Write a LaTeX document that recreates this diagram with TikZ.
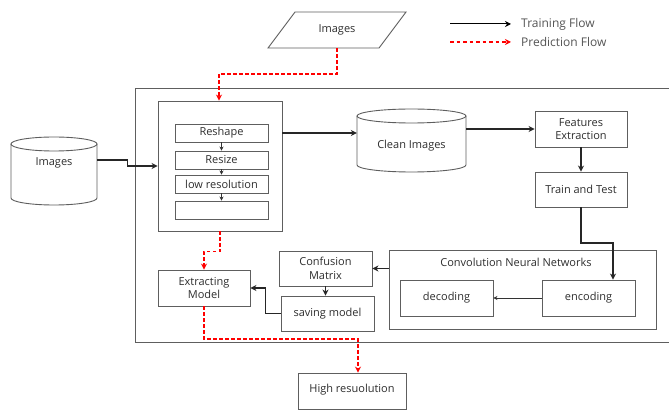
\documentclass[tikz,border=0pt]{standalone}
\usepackage{fontspec}
\setmainfont{Open Sans}
\usetikzlibrary{arrows.meta,calc}
\definecolor{boxc}{HTML}{5E5E5E}
\definecolor{txt}{HTML}{2E2E2E}
\definecolor{legt}{HTML}{555555}
\begin{document}
\begin{tikzpicture}[x=1pt,y=-1pt,
  box/.style={draw=boxc, line width=0.9pt, rectangle, inner sep=1pt, align=center,
    text=txt, font=\fontsize{11}{13.5}\selectfont},
  txtnode/.style={inner sep=0pt, align=center, text=txt, font=\fontsize{11}{13.5}\selectfont},
  cyl/.style={draw=boxc, line width=0.9pt},
  train/.style={draw=black!85, line width=1.4pt, -{Stealth[length=6pt,width=6pt]}},
  thinarrow/.style={draw=black!80, line width=0.6pt, -{Stealth[length=4pt,width=4pt]}},
  pred/.style={draw=red, line width=1.3pt, dash pattern=on 3.5pt off 2.5pt, -{Stealth[length=6pt,width=6pt]}},
  legtext/.style={anchor=west, inner sep=0pt, text=legt, font=\fontsize{12}{14}\selectfont}
]
\clip (0,0) rectangle (669,419);
\fill[white] (0,0) rectangle (669,419);

% outer frame
\node[draw=boxc, line width=1pt, minimum width=545pt, minimum height=254pt, inner sep=0pt] (outer) at (407.5,216) {};

% parallelogram input
\draw[cyl] (268,48) -- (295,12) -- (406,12) -- (379,48) -- cycle;
\node[txtnode, minimum width=111pt, minimum height=36pt] (pin) at (337,30) {Images};

% legend
\coordinate (l1) at (450,24);
\coordinate (l2) at (511,24);
\coordinate (l3) at (450,42);
\coordinate (l4) at (511,42);
\draw[draw=black, line width=1pt, -{Stealth[length=6pt,width=6pt]}] (l1) -- (l2);
\draw[draw=red, line width=1.2pt, dash pattern=on 3.5pt off 3pt, -{Stealth[length=6pt,width=6pt]}] (l3) -- (l4);
\node[legtext] (lt1) at (521,24) {Training Flow};
\node[legtext] (lt2) at (521,42) {Prediction Flow};

% left cylinder
\draw[cyl] (54,144) ellipse [x radius=43pt, y radius=7pt];
\draw[cyl] (11,144) -- (11,198) arc[start angle=180, end angle=360, x radius=43pt, y radius=7pt] -- (97,144);
\node[txtnode, minimum width=86pt] (imgL) at (54,163) {Images};

% preprocessing box
\node[box, minimum width=124pt, minimum height=130pt] (inner) at (220,166) {};
\node[box, minimum width=93pt, minimum height=18pt] (reshape) at (221.5,133) {Reshape};
\node[box, minimum width=93pt, minimum height=18pt] (resize) at (221.5,160) {Resize};
\node[box, minimum width=93pt, minimum height=18pt] (lowres) at (221.5,184) {low resolution};
\node[box, minimum width=93pt, minimum height=18pt] (empty) at (221.5,210) {};
\draw[thinarrow] (reshape.south) -- (resize.north);
\draw[thinarrow] (resize.south) -- (lowres.north);
\draw[thinarrow] (lowres.south) -- (empty.north);

% clean images cylinder
\draw[cyl] (411.5,116) ellipse [x radius=54.5pt, y radius=7pt];
\draw[cyl] (357,116) -- (357,165) arc[start angle=180, end angle=360, x radius=54.5pt, y radius=7pt] -- (466,116);
\node[txtnode, minimum width=109pt] (clean) at (411.5,146) {Clean Images};

% right column
\node[box, minimum width=92pt, minimum height=36pt] (feat) at (581,129) {Features\\Extraction};
\node[box, minimum width=92pt, minimum height=35pt] (tt) at (581,189.5) {Train and Test};

% CNN
\node[box, minimum width=267pt, minimum height=79pt] (cnn) at (522.5,289.5) {};
\node[txtnode] (cnnt) at (516,262) {Convolution Neural Networks};
\node[box, minimum width=93pt, minimum height=36pt] (enc) at (588.5,298) {encoding};
\node[box, minimum width=93pt, minimum height=36pt] (dec) at (446.5,298) {decoding};

% bottom-left
\node[box, minimum width=93pt, minimum height=35pt] (conf) at (325.5,268.5) {Confusion\\Matrix};
\node[box, minimum width=93pt, minimum height=35pt] (save) at (327.5,313.5) {saving model};
\node[box, minimum width=92pt, minimum height=36pt] (ext) at (204,288) {Extracting\\Model};
\node[box, minimum width=108pt, minimum height=36pt] (high) at (352,391) {\raisebox{5pt}{High resuolution}};

% training connectors
\draw[train] ([yshift=3pt]imgL.east) -- ++(30,0) -- ++(0,6) -- (inner.west);
\draw[train] ([yshift=33pt]inner.east) coordinate (a1) -- (a1 -| clean.west);
\draw[train] (clean.east |- feat.west) -- (feat.west);
\draw[train] (feat.south) -- (tt.north);
\coordinate (e1) at (613,243);
\draw[train] (tt.south) |- (e1) -- (e1 |- enc.north);
\draw[thinarrow] (enc.west) -- (dec.east);
\draw[train] (cnn.west |- conf.east) -- (conf.east);
\draw[train] (conf.south) -- (conf.south |- save.north);
\draw[train] (save.west) -- ++(-15,0) |- (ext.east);

% prediction connectors
\coordinate (c1) at (219,74);
\draw[pred] (pin.south) |- (c1) -- (c1 |- inner.north);
\draw[pred] (inner.south) -- ++(0,20) -| (ext.north);
\coordinate (c3) at (358,339);
\draw[pred] (ext.south) |- (c3) -- (c3 |- high.north);
\end{tikzpicture}
\end{document}
